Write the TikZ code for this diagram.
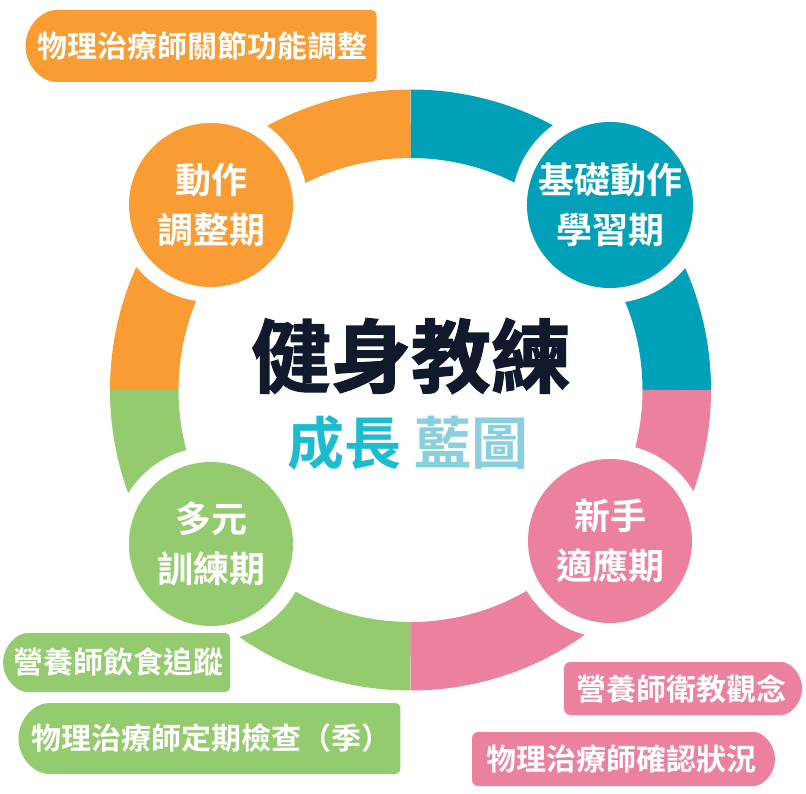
\documentclass[tikz,border=0pt]{standalone}
\usepackage{fontspec}
\usepackage{tikz}
\usetikzlibrary{shapes.misc}
\newfontfamily\cjkbold{Noto Sans CJK TC Bold}
\newfontfamily\cjkheavy{Noto Sans CJK TC Bold}[FakeBold=1.5]
\definecolor{orng}{HTML}{FA9C34}
\definecolor{tealc}{HTML}{00A0B9}
\definecolor{pinkc}{HTML}{EB819F}
\definecolor{grn}{HTML}{93CB6E}
\definecolor{navy}{HTML}{111A2C}
\definecolor{cyanA}{HTML}{1DBBCF}
\definecolor{cyanB}{HTML}{88D0DF}
\tikzset{
  band/.style={line width=68.5pt, draw=#1},
  stage/.style={circle, fill=#1, minimum size=164pt, inner sep=0pt,
    text=white, align=center, font=\cjkbold\fontsize{36}{50}\selectfont,
    preaction={draw=white, line width=30pt}},
  tagL/.style={rounded rectangle, rounded rectangle right arc=none, rounded corners=5pt,
    fill=#1, inner sep=0pt, text=white, font=\cjkbold\fontsize{30}{30}\selectfont},
  tagR/.style={rounded rectangle, rounded rectangle left arc=none, rounded corners=6pt,
    fill=#1, inner sep=0pt, text=white, font=\cjkbold\fontsize{30}{30}\selectfont}
}
\begin{document}
\begin{tikzpicture}[x=1pt,y=-1pt]
\useasboundingbox (0,0) rectangle (806,794);
% Define coordinates
\coordinate (C) at (410.5,390);
% Draw ring
\draw[band=tealc] (C) ++(266.25,0) arc[start angle=0, end angle=-90, radius=266.25];
\draw[band=orng] (C) ++(0,-266.25) arc[start angle=-90, end angle=-180, radius=266.25];
\draw[band=grn] (C) ++(-266.25,0) arc[start angle=180, end angle=90, radius=266.25];
\draw[band=pinkc] (C) ++(0,266.25) arc[start angle=90, end angle=0, radius=266.25];
% Stages
\node[stage=orng] (adjust) at (211,205) {動作\\調整期};
\node[stage=tealc] (basic) at (610,205) {基礎動作\\學習期};
\node[stage=grn] (varied) at (211,544) {多元\\訓練期};
\node[stage=pinkc] (novice) at (610,541) {新手\\適應期};
% Title
\node[font=\cjkheavy\fontsize{80}{80}\selectfont, text=navy] (title) at (411,356) {健身教練};
\node[font=\cjkbold\fontsize{57}{57}\selectfont] (subtitle) at (408,443)
  {\textcolor{cyanA}{成長} \textcolor{cyanB}{藍圖}};
% Tags
\node[tagL=orng, minimum width=351pt, minimum height=72pt] (physioA) at (202.5,46) {物理治療師關節功能調整};
\node[tagL=grn, minimum width=227pt, minimum height=59pt] (dietA) at (118.5,662.5) {營養師飲食追蹤};
\node[tagL=grn, minimum width=382pt, minimum height=71pt] (physioB) at (211,738.5) {物理治療師定期檢查（季）};
\node[tagR=pinkc, minimum width=238pt, minimum height=53pt] (dietB) at (681,688.5) {營養師衛教觀念};
\node[tagR=pinkc, minimum width=303pt, minimum height=54pt] (physioC) at (621.5,759) {物理治療師確認狀況};
\end{tikzpicture}
\end{document}
